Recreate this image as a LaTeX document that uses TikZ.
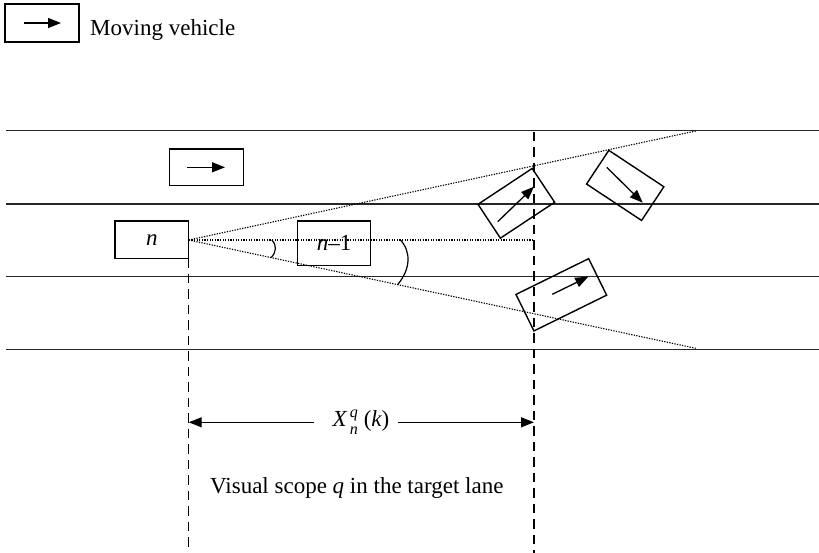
\documentclass[tikz,border=0pt]{standalone}
\usepackage{fontspec}
\setmainfont{Liberation Serif}
\usetikzlibrary{arrows.meta}
\begin{document}
\begin{tikzpicture}[x=1pt,y=-1pt,
  lane/.style={line width=1.6pt,draw=black!85},
  car/.style={draw,line width=1.4pt,inner sep=0pt,font=\fontsize{23}{27}\selectfont},
  heading/.style={line width=1.3pt,-{Triangle[length=13pt,width=10pt]}},
  sight/.style={line width=1.1pt,dash pattern=on 1.3pt off 1.3pt},
  guide/.style={line width=1.3pt,dash pattern=on 9.5pt off 6pt},
  lbl/.style={font=\fontsize{23}{27}\selectfont,inner sep=0pt}]
\useasboundingbox (0,0) rectangle (819,553);

% legend
\node[car,minimum width=74pt,minimum height=38pt] (legcar) at (42,23) {};
\coordinate (lega) at (24,23);
\coordinate (legb) at (61,23);
\draw[heading] (lega) -- (legb);
\node[lbl,anchor=base west] (legtxt) at (90,36) {Moving vehicle};

% lane markings
\foreach \y/\nm in {130.7/l0,204/l1,276.7/l2,349.3/l3}{
  \coordinate (\nm w) at (6,\y);
  \coordinate (\nm e) at (819,\y);
  \draw[lane] (\nm w) -- (\nm e);
}

% vehicle in the upper lane
\node[car,minimum width=74pt,minimum height=36.7pt] (up) at (206.3,167.3) {};
\coordinate (upa) at (187,167.3);
\coordinate (upb) at (225,167.3);
\draw[heading] (upa) -- (upb);

% subject vehicle n and leader n-1
\node[car,minimum width=73.7pt,minimum height=37.3pt] (vn) at (151.85,239.65) {\itshape n};
\node[car,minimum width=73.4pt,minimum height=44.7pt] (vn1) at (334,243.35) {\itshape n\/\upshape–1};

% sight lines from the driver of n
\coordinate (eye) at (188.7,240);
\coordinate (sightup) at (695.7,131);
\coordinate (sightlow) at (695.7,348.3);
\coordinate (sightmid) at (534,240);
\draw[sight] (eye) -- (sightup);
\draw[sight] (eye) -- (sightmid);
\draw[sight] (eye) -- (sightlow);

% angle marks
\coordinate (a1) at (271.7,240);
\coordinate (a2) at (271.2,257.5);
\draw[line width=1.2pt] (a1) .. controls (277,245) and (276.5,252) .. (a2);
\coordinate (b1) at (400,239.5);
\coordinate (b2) at (397.7,284.5);
\draw[line width=1.2pt] (b1) .. controls (412,252) and (410,270) .. (b2);

% vertical guides
\coordinate (g1top) at (188.7,258.3);
\coordinate (g1bot) at (188.7,553);
\coordinate (g2top) at (534,131.7);
\coordinate (g2bot) at (534,553);
\draw[guide] (g1top) -- (g1bot);
\draw[guide] (g2top) -- (g2bot);

% lane-changing vehicles
\node[car,minimum width=65pt,minimum height=40.6pt,rotate=33.5] (ca) at (516.3,203.3) {};
\coordinate (caa) at (497.7,221.7);
\coordinate (cab) at (534,186.7);
\draw[heading] (caa) -- (cab);

\node[car,minimum width=66pt,minimum height=40.4pt,rotate=-33.5] (cb) at (625.2,185.4) {};
\coordinate (cba) at (606.7,167.3);
\coordinate (cbb) at (642.7,202.7);
\draw[heading] (cba) -- (cbb);

\node[car,minimum width=81pt,minimum height=40.7pt,rotate=26.2] (cc) at (561.3,294.8) {};
\coordinate (cca) at (552.3,294.3);
\coordinate (ccb) at (588.3,276.7);
\draw[heading] (cca) -- (ccb);

% scope dimension
\node[lbl] (dist) at (361,422.3) {\itshape X\kern3pt\raisebox{0.42em}{\fontsize{16}{18}\selectfont\itshape q}\kern-8pt\raisebox{-0.34em}{\fontsize{16}{18}\selectfont\itshape n}\kern6pt\upshape(\itshape k\upshape)};
\coordinate (dl) at (188.7,422.3);
\coordinate (dr) at (534,422.3);
\draw[heading] (dist.west) ++(-19,0) -- (dl);
\draw[heading] (dist.east) ++(9,0) -- (dr);

\node[lbl,anchor=base west] (scope) at (210,493.3) {Visual scope \textit{q} in the target lane};
\end{tikzpicture}
\end{document}
